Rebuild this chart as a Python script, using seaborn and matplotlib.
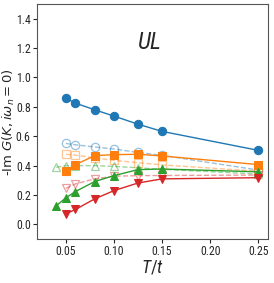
import numpy as np
import pandas as pd
import matplotlib
matplotlib.use("Agg")
import matplotlib.pyplot as plt
import seaborn as sns

# Temperaturas T/t
T_main = [0.05, 0.06, 0.08, 0.10, 0.125, 0.15, 0.25]
T_green = [0.04, 0.05, 0.06, 0.08, 0.10, 0.125, 0.15, 0.25]

# Series rellenas (linea continua)
azul_lleno = [0.859, 0.825, 0.780, 0.737, 0.682, 0.633, 0.504]
naranja_lleno = [0.366, 0.407, 0.468, 0.475, 0.477, 0.466, 0.407]
verde_lleno = [0.127, 0.181, 0.224, 0.292, 0.332, 0.373, 0.377, 0.358]
rojo_lleno = [0.072, 0.102, 0.174, 0.230, 0.282, 0.310, 0.318]

# Series abiertas (linea discontinua)
azul_abierto = [0.551, 0.542, 0.527, 0.513, 0.490, 0.470, 0.370]
naranja_abierto = [0.477, 0.472, 0.452, 0.436, 0.420, 0.405, 0.362]
verde_abierto = [0.389, 0.400, 0.400, 0.400, 0.395, 0.385, 0.375, 0.343]
rojo_abierto = [0.246, 0.276, 0.310, 0.328, 0.332, 0.333, 0.336]

sns.set_style("ticks")
# Fuente estrecha para parecerse a la figura original
plt.rcParams['font.family'] = ['Roboto Condensed', 'DejaVu Sans']
plt.rcParams['mathtext.fontset'] = 'custom'
plt.rcParams['mathtext.rm'] = 'Roboto Condensed'
plt.rcParams['mathtext.it'] = 'Roboto Condensed:italic'

fig = plt.figure(figsize=(2.74, 2.83), dpi=100)
ax = fig.add_axes([0.135, 0.155, 0.843, 0.831])

colores = sns.color_palette("tab10")
azul, naranja, verde, rojo = colores[0], colores[1], colores[2], colores[3]

series = [
    (T_main, azul_abierto, azul, 'o'),
    (T_main, naranja_abierto, naranja, 's'),
    (T_green, verde_abierto, verde, '^'),
    (T_main, rojo_abierto, rojo, 'v'),
]
# Primero las abiertas, discontinuas y claras
for xs, ys, c, m in series:
    df = pd.DataFrame({'T': xs, 'G': ys})
    sns.lineplot(data=df, x='T', y='G', ax=ax, color=c, marker=m, linestyle='--',
                 markersize=6, markerfacecolor='none', markeredgecolor=c,
                 markeredgewidth=0.9, linewidth=1.0, alpha=0.45)

series_llenas = [
    (T_main, azul_lleno, azul, 'o'),
    (T_main, naranja_lleno, naranja, 's'),
    (T_green, verde_lleno, verde, '^'),
    (T_main, rojo_lleno, rojo, 'v'),
]
for xs, ys, c, m in series_llenas:
    df = pd.DataFrame({'T': xs, 'G': ys})
    sns.lineplot(data=df, x='T', y='G', ax=ax, color=c, marker=m, linestyle='-',
                 markersize=6, markeredgecolor=c, linewidth=1.0)

ax.set_xlim(0.02, 0.26)
ax.set_ylim(-0.1, 1.5)
ax.set_xticks([0.05, 0.10, 0.15, 0.20, 0.25])
ax.set_yticks([0.0, 0.2, 0.4, 0.6, 0.8, 1.0, 1.2, 1.4])
ax.tick_params(labelsize=8.5, length=3, pad=1.5)
ax.set_xlabel('$T/t$', fontsize=13, labelpad=0)
ax.set_ylabel(r'-Im $G(K,i\omega_n=0)$', fontsize=9.5, family='DejaVu Sans',
              math_fontfamily='dejavusans', va='center')
ax.yaxis.set_label_coords(-0.122, 0.5)
ax.text(0.137, 1.24, '$UL$', fontsize=17, ha='center', va='center')
for s in ax.spines.values():
    s.set_color('#555555')
    s.set_linewidth(0.8)

fig.savefig('out.png', dpi=100)
